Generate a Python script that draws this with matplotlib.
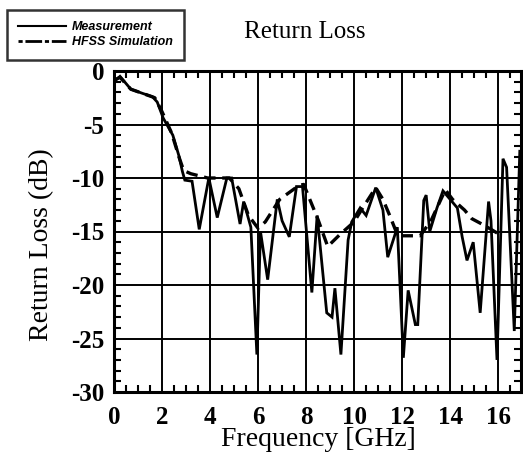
import matplotlib
matplotlib.use("Agg")
import matplotlib.pyplot as plt
from matplotlib.ticker import MultipleLocator
from matplotlib.lines import Line2D

plt.rcParams['axes.unicode_minus'] = False

# Measurement (GHz, dB)
meas_f = [0.05, 0.25, 0.7, 1.2, 1.6, 1.8, 2.05, 2.45, 2.7, 2.85, 2.95, 3.25, 3.55,
          3.95, 4.3, 4.7, 4.9, 5.25, 5.4, 5.7, 5.95, 6.1, 6.4, 6.8, 7.0, 7.3,
          7.6, 7.85, 8.24, 8.46, 8.86, 9.08, 9.2, 9.45, 9.75, 9.9, 10.25, 10.5,
          10.9, 11.2, 11.4, 11.8, 12.05, 12.25, 12.55, 12.65, 12.9, 13.0, 13.15,
          13.45, 13.7, 14.0, 14.3, 14.5, 14.7, 14.96, 15.25, 15.6, 15.7, 15.95,
          16.2, 16.35, 16.67, 16.9]
meas_db = [-0.9, -0.5, -1.7, -2.1, -2.4, -2.9, -4.4, -6.0, -7.9, -9.4, -10.2, -10.3, -14.8,
           -10.0, -13.7, -10.0, -10.0, -14.3, -12.2, -14.6, -26.5, -15.0, -19.5, -12.0, -14.0, -15.5,
           -10.8, -10.8, -20.7, -13.5, -22.6, -23.0, -20.3, -26.5, -15.8, -14.1, -12.8, -13.5,
           -10.9, -13.0, -17.4, -14.6, -26.8, -20.5, -23.7, -23.7, -12.1, -11.6, -15.0,
           -12.8, -11.2, -12.0, -12.8, -15.5, -17.7, -16.0, -22.6, -12.2, -14.0, -27.0,
           -8.2, -9.0, -24.3, -7.5]

# HFSS simulation
sim_f = [0.05, 0.25, 0.7, 1.2, 1.7, 2.0, 2.4, 2.7, 2.9, 3.2, 3.9, 4.8, 5.2, 5.6, 6.0,
         6.3, 6.9, 7.7, 7.9, 8.3, 8.5, 8.9, 9.4, 10.0, 10.3, 10.9, 11.2, 11.5, 11.8,
         12.0, 12.75, 13.2, 13.8, 14.1, 14.6, 14.9, 15.4, 16.0]
sim_db = [-0.8, -0.6, -1.7, -2.1, -2.5, -3.8, -5.8, -8.0, -9.3, -9.6, -10.0, -10.0, -11.0, -13.5, -14.7,
          -14.1, -12.0, -10.7, -10.6, -12.8, -13.9, -16.4, -15.3, -14.1, -13.0, -10.9, -12.0, -13.6, -15.3,
          -15.4, -15.4, -14.0, -11.1, -12.0, -13.0, -13.8, -14.4, -15.2]

x_ticks = [0, 2, 4, 6, 8, 10, 12, 14, 16]
y_ticks = [0, -5, -10, -15, -20, -25, -30]

W, H = 523, 457
fig = plt.figure(figsize=(W / 100, H / 100), dpi=100)
ax = fig.add_axes([114 / W, 1 - 392 / H, (521 - 114) / W, (392 - 71) / H])

serif = ['Liberation Serif', 'DejaVu Serif']

ax.plot(meas_f, meas_db, color='black', lw=2.0, solid_joinstyle='miter')
ax.plot(sim_f, sim_db, color='black', lw=2.4, dashes=(3.5, 2))

ax.set_xlim(0, 16.95)
ax.set_ylim(-30, 0)
ax.set_xticks(x_ticks)
ax.set_yticks(y_ticks)
ax.set_xticklabels([str(v) for v in x_ticks], fontfamily=serif, fontsize=18, fontweight='bold')
ax.set_yticklabels([str(v) for v in y_ticks], fontfamily=serif, fontsize=18, fontweight='bold')
ax.xaxis.set_minor_locator(MultipleLocator(0.5))
ax.yaxis.set_minor_locator(MultipleLocator(1))
ax.tick_params(which='both', direction='in', top=True, right=True, color='black')
ax.tick_params(axis='x', which='major', length=0, pad=10)
ax.tick_params(axis='y', which='major', length=0, pad=7)
ax.tick_params(which='minor', length=5, width=1.5)
ax.grid(True, which='major', color='black', lw=1.4)
for s in ax.spines.values():
    s.set_linewidth(2.2)

fig.text(318 / W, 1 - 440 / H, 'Frequency [GHz]', fontfamily=serif, fontsize=20,
         ha='center', va='center')
fig.text(42 / W, 1 - 245 / H, 'Return Loss (dB)', fontfamily=serif, fontsize=20,
         ha='center', va='center', rotation=90)
fig.text(305 / W, 1 - 32 / H, 'Return Loss', fontfamily=serif, fontsize=18,
         ha='center', va='center')

handles = [Line2D([], [], color='black', lw=1.5),
           Line2D([], [], color='black', lw=2.0, dashes=(1.5, 1, 6, 1))]
leg = fig.legend(handles, ['Measurement', 'HFSS Simulation'],
                 loc='upper left', bbox_to_anchor=(7 / W, 1 - 10 / H),
                 prop={'family': 'Liberation Sans', 'weight': 'bold', 'style': 'italic', 'size': 9},
                 frameon=True, fancybox=False, edgecolor='black', borderpad=0.9,
                 handlelength=3.8, handletextpad=0.5, labelspacing=0.25, borderaxespad=0)
leg.get_frame().set_linewidth(1.8)

fig.savefig('out.png', dpi=100)
